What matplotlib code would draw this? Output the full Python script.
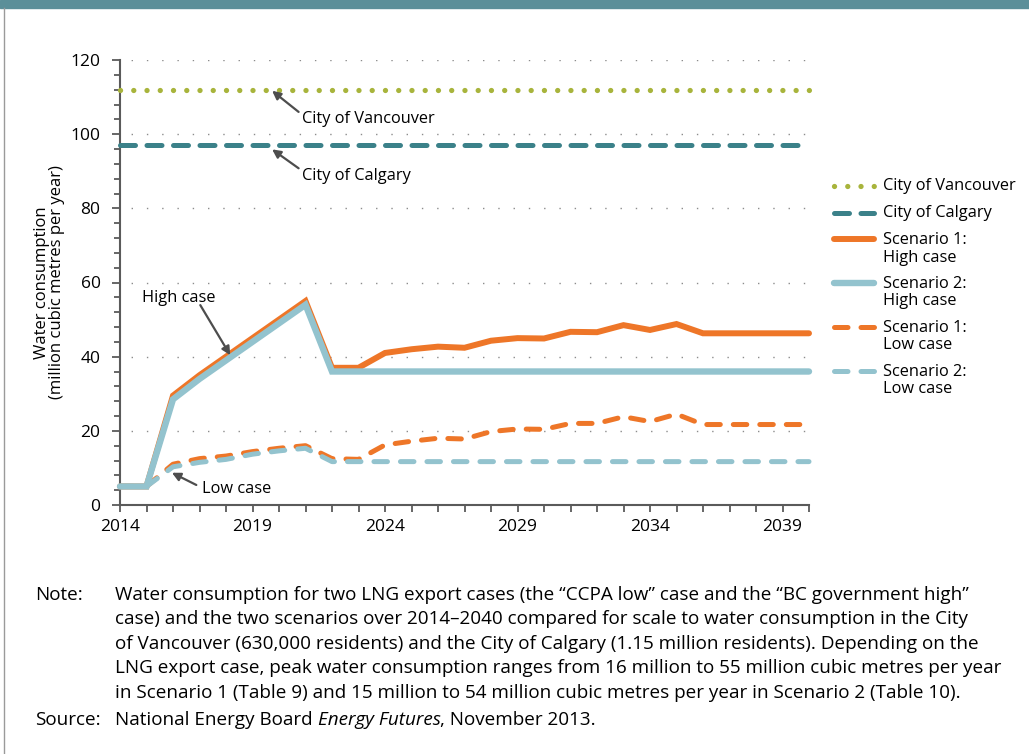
"""
plot.py - Consumo de agua de los escenarios de GNL frente a Vancouver y Calgary.
"""

import matplotlib
matplotlib.use("Agg")
import matplotlib.pyplot as plt
from matplotlib.lines import Line2D
from matplotlib.patches import Rectangle

W, H = 1029, 754

# --- Datos (millones de m³ por año) ---
YEARS = list(range(2014, 2041))
VANCOUVER = 112
CALGARY = 97
S1_HIGH = [5, 5, 29.5, 35, 40, 45, 50, 55, 37, 37, 41, 42, 42.7, 42.4, 44.3, 45,
           44.9, 46.7, 46.6, 48.5, 47.2, 48.8, 46.3, 46.3, 46.3, 46.3, 46.3]
S2_HIGH = [5, 5, 28.5, 34, 39, 44, 49, 54, 36, 36, 36, 36, 36, 36, 36, 36,
           36, 36, 36, 36, 36, 36, 36, 36, 36, 36, 36]
S1_LOW = [5, 5, 11, 12.5, 13.2, 14.4, 15.3, 16, 12.5, 12.3, 16.2, 17.2, 18, 17.8,
          19.8, 20.5, 20.4, 22, 22, 23.8, 22.5, 24.5, 21.7, 21.7, 21.7, 21.7, 21.7]
S2_LOW = [5, 5, 10.3, 11.5, 12.3, 13.7, 14.6, 15.3, 11.7, 11.7, 11.7, 11.7, 11.7,
          11.7, 11.7, 11.7, 11.7, 11.7, 11.7, 11.7, 11.7, 11.7, 11.7, 11.7, 11.7,
          11.7, 11.7]
LABELS = ["City of Vancouver", "City of Calgary", "Scenario 1:\nHigh case",
          "Scenario 2:\nHigh case", "Scenario 1:\nLow case", "Scenario 2:\nLow case"]

NOTE = ("Water consumption for two LNG export cases (the \u201cCCPA low\u201d case and the \u201cBC government high\u201d\n"
        "case) and the two scenarios over 2014\u20132040 compared for scale to water consumption in the City\n"
        "of Vancouver (630,000 residents) and the City of Calgary (1.15 million residents). Depending on the\n"
        "LNG export case, peak water consumption ranges from 16 million to 55 million cubic metres per year\n"
        "in Scenario 1 (Table 9) and 15 million to 54 million cubic metres per year in Scenario 2 (Table 10).")

ORANGE = "#ee7628"
BLUE = "#93c3ce"
TEAL = "#3b8189"
GREEN = "#a8b43c"
GREY = "#5a5a5a"

ESTILOS = [
    dict(color=GREEN, lw=3.8, linestyle=(0, (0.01, 2.5)), dash_capstyle="round"),
    dict(color=TEAL, lw=3.6, linestyle=(0, (3.0, 2.3)), dash_capstyle="round"),
    dict(color=ORANGE, lw=4.3, solid_capstyle="round", solid_joinstyle="miter"),
    dict(color=BLUE, lw=4.6, solid_capstyle="round", solid_joinstyle="miter"),
    dict(color=ORANGE, lw=3.6, linestyle=(0, (2.7, 2.6)), dash_capstyle="round"),
    dict(color=BLUE, lw=3.6, linestyle=(0, (2.7, 2.6)), dash_capstyle="round"),
]

FS = 11.8        # anotaciones y leyenda
FS_NOTA = 13.6   # nota y fuente

plt.rcParams["font.family"] = ["Open Sans", "DejaVu Sans"]


def fx(px):
    return px / W


def fy(py):
    return 1 - py / H


def main():
    fig = plt.figure(figsize=(W / 100, H / 100), dpi=100)
    fig.patches.append(Rectangle((0, fy(8)), 1, 8 / H, transform=fig.transFigure,
                                 color="#5b8f99", zorder=0))
    fig.add_artist(Line2D([fx(4), fx(4)], [0, fy(8)], color="#9a9a9a", lw=1))

    ax = fig.add_axes([fx(120), fy(505), fx(809) - fx(120), fy(60) - fy(505)])
    series = [[VANCOUVER] * len(YEARS), [CALGARY] * len(YEARS),
              S1_HIGH, S2_HIGH, S1_LOW, S2_LOW]
    for vals, est, z in zip(series, ESTILOS, [3, 3, 4, 5, 4, 5]):
        ax.plot(YEARS, vals, clip_on=False, zorder=z, **est)

    ax.set_xlim(2014, 2040)
    ax.set_ylim(0, 120)
    ax.set_xticks(YEARS)
    ax.set_xticklabels([str(y) if (y - 2014) % 5 == 0 else "" for y in YEARS])
    ax.set_yticks(range(0, 121, 20))
    ax.set_yticks(range(0, 121, 4), minor=True)
    ax.tick_params(axis="both", which="both", colors=GREY, width=1.3,
                   labelcolor="black", labelsize=12.5)
    ax.tick_params(axis="x", length=5, pad=5)
    ax.tick_params(axis="y", which="major", length=6, pad=8)
    ax.tick_params(axis="y", which="minor", length=4)
    for lado in ["top", "right"]:
        ax.spines[lado].set_visible(False)
    for lado in ["left", "bottom"]:
        ax.spines[lado].set_color(GREY)
        ax.spines[lado].set_linewidth(1.5)
    ax.yaxis.grid(True, color="#8c8c8c", linestyle=(3, (1, 10)), linewidth=1)
    ax.set_axisbelow(True)
    ax.set_ylabel("Water consumption\n(million cubic metres per year)",
                  fontsize=12, linespacing=0.95)
    ax.yaxis.set_label_coords((65 - 120) / 689, 0.5)

    # --- Anotaciones ---
    flecha = dict(arrowstyle="-|>,head_length=0.5,head_width=0.25", color="#4d4d4d",
                  lw=1.6, shrinkA=0, shrinkB=0)
    notas = [("City of Vancouver", (2019.74, 111.7), (2020.74, 106), (2020.88, 104)),
             ("City of Calgary", (2019.74, 95.9), (2020.74, 90.8), (2020.88, 88.7)),
             ("High case", (2018.16, 40.4), (2017.03, 53.9), (2014.82, 55.7)),
             ("Low case", (2015.96, 8.7), (2016.88, 5.4), (2017.09, 4.3))]
    for texto, punta, cola, pos in notas:
        ax.annotate("", xy=punta, xytext=cola, arrowprops=flecha, zorder=6)
        ax.text(pos[0], pos[1], texto, fontsize=FS, va="center", ha="left", zorder=6)

    # --- Leyenda manual ---
    filas = [186, 213, 239, 283, 327, 371]
    filas_texto = [186, 213, 249, 292.5, 336.5, 380.5]
    for fila, ft, est, etiqueta in zip(filas, filas_texto, ESTILOS, LABELS):
        fig.add_artist(Line2D([fx(834), fx(874)], [fy(fila), fy(fila)], **est))
        fig.text(fx(883), fy(ft), etiqueta, fontsize=FS, va="center", linespacing=1.12)

    # --- Nota y fuente ---
    fig.text(fx(35), fy(586), "Note:", fontsize=FS_NOTA, va="top")
    fig.text(fx(115), fy(586), NOTE, fontsize=FS_NOTA, va="top", linespacing=1.46)
    fig.text(fx(35), fy(711), "Source:", fontsize=FS_NOTA, va="top")
    t1 = fig.text(fx(115), fy(711), "National Energy Board ", fontsize=FS_NOTA, va="top")
    fig.canvas.draw()
    rend = fig.canvas.get_renderer()
    bb = t1.get_window_extent(renderer=rend)
    t2 = fig.text(bb.x1 / W, fy(711), "Energy Futures", fontsize=FS_NOTA, va="top",
                  style="italic")
    bb2 = t2.get_window_extent(renderer=rend)
    fig.text(bb2.x1 / W, fy(711), ", November 2013.", fontsize=FS_NOTA, va="top")

    fig.savefig("out.png", dpi=100)
    plt.close(fig)


if __name__ == "__main__":
    main()
